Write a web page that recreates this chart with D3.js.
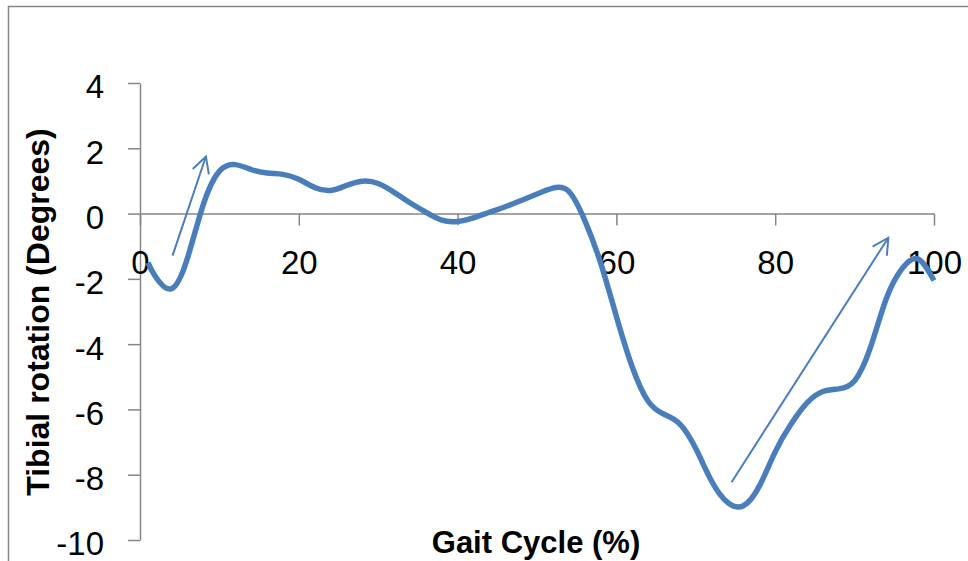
<!DOCTYPE html>
<html>
<head>
<meta charset="utf-8">
<title>Tibial rotation</title>
<script src="https://d3js.org/d3.v7.min.js"></script>
<style>
  body { margin: 0; background: #fff; }
  svg { display: block; font-family: "Liberation Sans", Arial, sans-serif; }
</style>
</head>
<body>
<svg id="chart" width="968" height="561"></svg>
<script>
// gait cycle (%) and tibial rotation (degrees)
const gaitPct = [1, 2, 4, 6, 8, 10, 12, 14, 16, 18, 20, 22, 24, 26, 28, 30, 32, 34, 36, 38, 40,
  42, 44, 46, 48, 50, 52, 54, 56, 58, 60, 62, 64, 66, 68, 70, 72, 74, 76, 78, 80,
  82, 84, 86, 88, 90, 92, 94, 96, 98, 100];
const rotation = [-1.5, -1.95, -2.3, -1.35, 0.3, 1.3, 1.5, 1.35, 1.24, 1.2, 1.05, 0.8, 0.71, 0.86, 0.99, 0.92, 0.65, 0.33, 0.04, -0.2, -0.24,
  -0.13, 0.04, 0.21, 0.4, 0.6, 0.78, 0.68, -0.2, -1.5, -3.15, -4.7, -5.75, -6.15, -6.45, -7.2, -8.2, -8.85, -8.95, -8.35, -7.3,
  -6.45, -5.8, -5.45, -5.37, -5.12, -4.1, -2.6, -1.68, -1.39, -2.05];

const xTicks = [0, 20, 40, 60, 80, 100];
const yTicks = [4, 2, 0, -2, -4, -6, -8, -10];

// annotation arrows: [x0, y0, x1, y1] in data units
const arrows = [
  [4.1, -1.29, 8.3, 1.75],
  [74.5, -8.23, 94.25, -0.74]
];

const blue = "#4a7ebb";
const axisGrey = "#868686";

const svg = d3.select("#chart");

// chart area border (runs off right and bottom edge)
svg.append("rect")
  .attr("x", 8.5).attr("y", 6.5)
  .attr("width", 1000).attr("height", 600)
  .attr("fill", "none")
  .attr("stroke", axisGrey)
  .attr("stroke-width", 1.5);

const x = d3.scaleLinear().domain([0, 100]).range([140, 934]);
const y = d3.scaleLinear().domain([-10, 4]).range([540, 83]);

// y axis
const yAxis = svg.append("g")
  .attr("transform", "translate(" + x(0) + ",0)")
  .call(d3.axisLeft(y).tickValues(yTicks).tickSize(12).tickSizeOuter(0)
    .tickPadding(24).tickFormat(d => String(d)));

// x axis sits on y = 0
const xAxis = svg.append("g")
  .attr("transform", "translate(0," + y(0) + ")")
  .call(d3.axisBottom(x).tickValues(xTicks).tickSize(12).tickSizeOuter(0)
    .tickPadding(25).tickFormat(d => String(d)));

[xAxis, yAxis].forEach(function(g) {
  g.select(".domain").attr("stroke", axisGrey).attr("stroke-width", 1.5);
  g.selectAll(".tick line").attr("stroke", axisGrey).attr("stroke-width", 1.5);
  g.selectAll(".tick text")
    .attr("fill", "#000")
    .attr("font-size", 33)
    .attr("font-family", "'Liberation Sans', Arial, sans-serif");
});
yAxis.selectAll(".tick text").attr("dy", "0.45em");

// data line, smoothed like the spreadsheet original
const line = d3.line()
  .x((d, i) => x(gaitPct[i]))
  .y(d => y(d))
  .curve(d3.curveNatural);

svg.append("path")
  .datum(rotation)
  .attr("d", line)
  .attr("fill", "none")
  .attr("stroke", blue)
  .attr("stroke-width", 5.5)
  .attr("stroke-linejoin", "round");

// open arrow head
svg.append("defs").append("marker")
  .attr("id", "head")
  .attr("markerUnits", "userSpaceOnUse")
  .attr("viewBox", "0 0 20 20")
  .attr("markerWidth", 20).attr("markerHeight", 20)
  .attr("refX", 18).attr("refY", 10)
  .attr("orient", "auto")
  .append("path")
  .attr("d", "M2,1.5 L18,10 L2,18.5")
  .attr("fill", "none")
  .attr("stroke", blue)
  .attr("stroke-width", 2);

svg.selectAll(".arrow")
  .data(arrows)
  .enter().append("line")
  .attr("class", "arrow")
  .attr("x1", d => x(d[0])).attr("y1", d => y(d[1]))
  .attr("x2", d => x(d[2])).attr("y2", d => y(d[3]))
  .attr("stroke", blue)
  .attr("stroke-width", 2)
  .attr("marker-end", "url(#head)");

// axis titles
svg.append("text")
  .attr("x", 536).attr("y", 553)
  .attr("text-anchor", "middle")
  .attr("font-size", 31)
  .attr("font-weight", "bold")
  .text("Gait Cycle (%)");

svg.append("text")
  .attr("transform", "translate(49,312) rotate(-90)")
  .attr("text-anchor", "middle")
  .attr("font-size", 32)
  .attr("font-weight", "bold")
  .text("Tibial rotation (Degrees)");
</script>
</body>
</html>
